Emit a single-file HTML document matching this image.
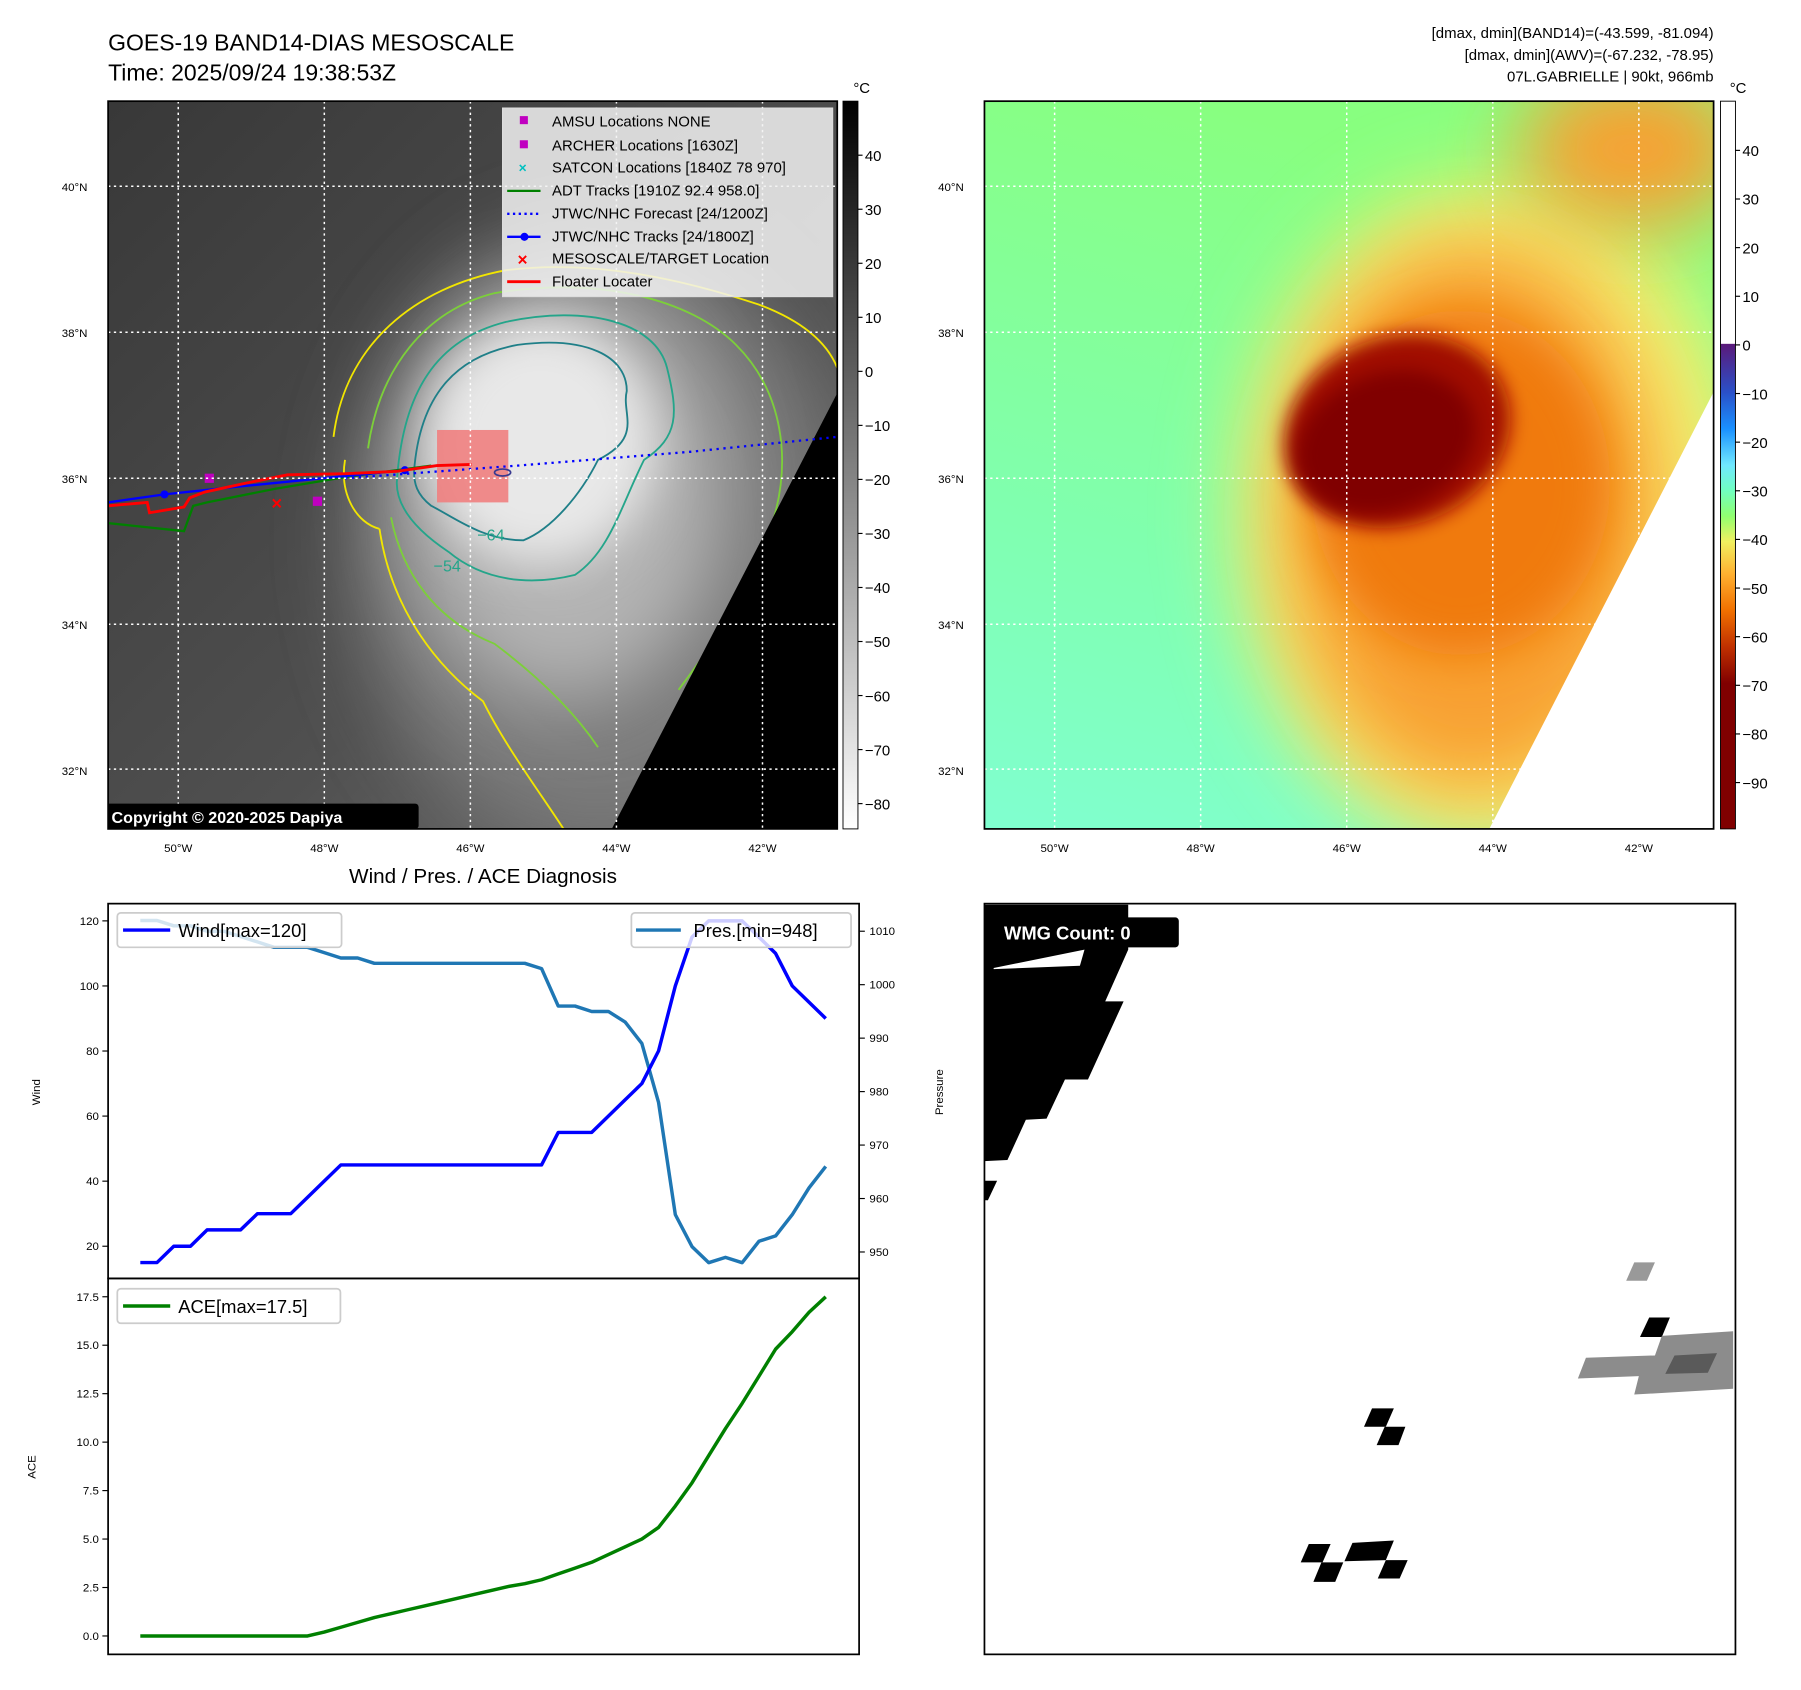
<!DOCTYPE html>
<html><head><meta charset="utf-8">
<style>
html,body{margin:0;padding:0;background:#fff;}
svg{display:block;font-family:"Liberation Sans","DejaVu Sans",sans-serif;}
</style></head>
<body>
<svg id="fig" width="1801" height="1690" viewBox="0 0 1566 1470" preserveAspectRatio="none" xmlns="http://www.w3.org/2000/svg">
<defs>
  <clipPath id="c1"><rect x="94" y="88" width="634" height="633"/></clipPath>
  <clipPath id="c2"><rect x="856" y="88" width="634" height="633"/></clipPath>
  <filter id="b20" x="-50%" y="-50%" width="200%" height="200%"><feGaussianBlur stdDeviation="20"/></filter>
  <filter id="b35" x="-50%" y="-50%" width="200%" height="200%"><feGaussianBlur stdDeviation="35"/></filter>
  <filter id="b10" x="-50%" y="-50%" width="200%" height="200%"><feGaussianBlur stdDeviation="8"/></filter>
  <linearGradient id="greyBar" x1="0" y1="0" x2="0" y2="1">
    <stop offset="0" stop-color="#000"/><stop offset="1" stop-color="#fff"/>
  </linearGradient>
  <linearGradient id="colBar" x1="0" y1="88" x2="0" y2="721" gradientUnits="userSpaceOnUse">
    <stop offset="0" stop-color="#fff"/><stop offset="0.333" stop-color="#fff"/>
    <stop offset="0.334" stop-color="#5a1a7a"/>
    <stop offset="0.40" stop-color="#2a50c8"/>
    <stop offset="0.45" stop-color="#1a90ff"/>
    <stop offset="0.50" stop-color="#70e8ff"/>
    <stop offset="0.535" stop-color="#70ffc0"/>
    <stop offset="0.57" stop-color="#90ff70"/>
    <stop offset="0.605" stop-color="#f0f060"/>
    <stop offset="0.65" stop-color="#ffb030"/>
    <stop offset="0.70" stop-color="#f07000"/>
    <stop offset="0.75" stop-color="#c03000"/>
    <stop offset="0.80" stop-color="#800000"/>
    <stop offset="1" stop-color="#800000"/>
  </linearGradient>
  <linearGradient id="map1bg" x1="0" y1="0" x2="1" y2="1">
    <stop offset="0" stop-color="#383838"/><stop offset="0.6" stop-color="#505050"/><stop offset="1" stop-color="#707070"/>
  </linearGradient>
  <linearGradient id="map2bg" x1="0.3" y1="0" x2="0" y2="1">
    <stop offset="0" stop-color="#88ff80"/><stop offset="0.6" stop-color="#80ffb0"/><stop offset="1" stop-color="#80ffd0"/>
  </linearGradient>
</defs>

<text x="94" y="44" font-size="20">GOES-19 BAND14-DIAS MESOSCALE</text>
<text x="94" y="70" font-size="20">Time: 2025/09/24 19:38:53Z</text>
<g font-size="13" text-anchor="end">
  <text x="1490" y="33">[dmax, dmin](BAND14)=(-43.599, -81.094)</text>
  <text x="1490" y="52">[dmax, dmin](AWV)=(-67.232, -78.95)</text>
  <text x="1490" y="71">07L.GABRIELLE | 90kt, 966mb</text>
</g>

<!-- MAP 1 -->
<g clip-path="url(#c1)">
  <rect x="94" y="88" width="634" height="633" fill="url(#map1bg)"/>
  <ellipse cx="520" cy="470" rx="210" ry="270" fill="#7a7a7a" filter="url(#b35)"/>
  <ellipse cx="490" cy="430" rx="140" ry="180" fill="#b4b4b4" filter="url(#b35)"/>
  <ellipse cx="470" cy="385" rx="100" ry="105" fill="#e8e8e8" filter="url(#b20)"/>
  <g fill="none" stroke-width="1.6">
    <path stroke="#f2e600" d="M290,380 C300,300 360,250 440,235 C520,225 600,245 660,265 C700,280 720,300 728,320 M728,420 C710,460 680,520 650,560 C620,620 580,680 560,721 M330,460 C340,530 380,580 420,610 C440,650 470,690 490,721 M300,400 C295,430 310,455 330,460"/>
    <path stroke="#7ccf3a" d="M320,390 C330,320 370,270 430,255 C520,240 600,260 640,300 C680,340 690,400 670,460 C650,520 620,560 590,600 M340,450 C350,500 380,540 430,560 C470,590 500,620 520,650"/>
    <path stroke="#24a58a" d="M345,420 C350,340 380,295 440,280 C510,265 570,280 580,320 C590,360 590,380 560,400 C540,440 530,480 500,500 C460,510 420,505 390,480 C360,460 345,440 345,420 Z"/>
    <path stroke="#1f7f88" d="M360,410 C365,345 395,310 450,300 C510,292 545,310 545,340 C540,360 560,380 520,400 C505,430 480,460 455,470 C420,470 395,450 375,440 C362,430 360,420 360,410 Z"/>
  </g>
  <text x="415" y="470" font-size="14" fill="#24a58a">−64</text>
  <text x="377" y="497" font-size="14" fill="#24a58a">−54</text>
  <polygon points="728,342 728,721 532,721" fill="#000"/>
  <rect x="380" y="374" width="62" height="63" fill="#f08080" fill-opacity="0.9"/>
  <polyline fill="none" stroke="#008000" stroke-width="2" points="94,455 160,462 168,440 180,437 240,425 300,415 375,405"/>
  <polyline fill="none" stroke="#0000ff" stroke-width="2" stroke-dasharray="2,4" points="300,416 450,405 600,393 728,380"/>
  <polyline fill="none" stroke="#0000ff" stroke-width="2" points="94,437 143,430 200,424 260,418 352,409"/>
  <circle cx="143" cy="430" r="3.5" fill="#0000ff"/><circle cx="352" cy="409" r="3.5" fill="#0000ff"/>
  <polyline fill="none" stroke="#ff0000" stroke-width="2.5" points="94,440 128,437 130,446 160,441 165,433 178,428 215,420 250,413 300,412 345,410 380,405 410,404"/>
  <text x="236" y="443" font-size="16" fill="#ff0000" font-weight="bold">×</text>
  <rect x="272" y="432" width="8" height="8" fill="#c000c0"/>
  <rect x="178" y="412" width="8" height="8" fill="#c000c0"/>
  <ellipse cx="437" cy="411" rx="7" ry="3" fill="none" stroke="#3a3a90" stroke-width="1.5"/>
  <g stroke="#fff" stroke-width="1.3" stroke-dasharray="2,3">
    <line x1="155" y1="88" x2="155" y2="721"/><line x1="282" y1="88" x2="282" y2="721"/><line x1="409" y1="88" x2="409" y2="721"/><line x1="536" y1="88" x2="536" y2="721"/><line x1="663" y1="88" x2="663" y2="721"/>
    <line x1="94" y1="162" x2="728" y2="162"/><line x1="94" y1="289" x2="728" y2="289"/><line x1="94" y1="416" x2="728" y2="416"/><line x1="94" y1="543" x2="728" y2="543"/><line x1="94" y1="669" x2="728" y2="669"/>
  </g>
  <g>
    <rect x="437" y="94" width="287" height="164" fill="#f2f2f2" fill-opacity="0.85" stroke="#ddd"/>
    <g font-size="13">
      <rect x="452" y="101" width="7" height="7" fill="#c000c0"/><text x="480" y="110">AMSU Locations NONE</text>
      <rect x="452" y="122" width="7" height="7" fill="#c000c0"/><text x="480" y="131">ARCHER Locations [1630Z]</text>
      <text x="451" y="150" fill="#00c0c0" font-weight="bold" font-size="12">×</text><text x="480" y="150">SATCON Locations [1840Z 78 970]</text>
      <line x1="441" y1="166" x2="470" y2="166" stroke="#008000" stroke-width="2"/><text x="480" y="170">ADT Tracks [1910Z 92.4 958.0]</text>
      <line x1="441" y1="186" x2="470" y2="186" stroke="#0000ff" stroke-width="2" stroke-dasharray="2,3"/><text x="480" y="190">JTWC/NHC Forecast [24/1200Z]</text>
      <line x1="441" y1="206" x2="470" y2="206" stroke="#0000ff" stroke-width="2"/><circle cx="456" cy="206" r="3.5" fill="#0000ff"/><text x="480" y="210">JTWC/NHC Tracks [24/1800Z]</text>
      <text x="450" y="231" fill="#ff0000" font-weight="bold" font-size="15">×</text><text x="480" y="229">MESOSCALE/TARGET Location</text>
      <line x1="441" y1="245" x2="470" y2="245" stroke="#ff0000" stroke-width="2.5"/><text x="480" y="249">Floater Locater</text>
    </g>
  </g>
  <rect x="92" y="699" width="272" height="22" rx="3" fill="#000"/>
  <text x="97" y="716" font-size="14" font-weight="bold" fill="#fff">Copyright © 2020-2025 Dapiya</text>
</g>
<rect x="94" y="88" width="634" height="633" fill="none" stroke="#000" stroke-width="1.5"/>
<rect x="733" y="88" width="13" height="633" fill="url(#greyBar)" stroke="#000" stroke-width="0.8"/>
<text x="742" y="81" font-size="13">°C</text>
<g id="cb1" font-size="13"></g>

<!-- MAP 2 -->
<g clip-path="url(#c2)">
  <rect x="856" y="88" width="634" height="633" fill="url(#map2bg)"/>
  <ellipse cx="1300" cy="450" rx="220" ry="290" fill="#f8f070" filter="url(#b35)"/>
  <ellipse cx="1420" cy="130" rx="100" ry="70" fill="#f8a030" filter="url(#b35)"/>
  <ellipse cx="1280" cy="450" rx="165" ry="240" fill="#f8a030" filter="url(#b35)"/>
  <ellipse cx="1270" cy="420" rx="130" ry="150" fill="#f07a10" filter="url(#b20)"/>
  <ellipse cx="1215" cy="375" rx="100" ry="82" fill="#a01000" filter="url(#b10)" transform="rotate(-20 1215 375)"/>
  <ellipse cx="1205" cy="385" rx="80" ry="60" fill="#800000" filter="url(#b10)" transform="rotate(-20 1205 385)"/>
  <polygon points="1490,341 1490,721 1295,721" fill="#fff"/>
  <g stroke="#fff" stroke-width="1.3" stroke-dasharray="2,3">
    <line x1="917" y1="88" x2="917" y2="721"/><line x1="1044" y1="88" x2="1044" y2="721"/><line x1="1171" y1="88" x2="1171" y2="721"/><line x1="1298" y1="88" x2="1298" y2="721"/><line x1="1425" y1="88" x2="1425" y2="721"/>
    <line x1="856" y1="162" x2="1490" y2="162"/><line x1="856" y1="289" x2="1490" y2="289"/><line x1="856" y1="416" x2="1490" y2="416"/><line x1="856" y1="543" x2="1490" y2="543"/><line x1="856" y1="669" x2="1490" y2="669"/>
  </g>
</g>
<rect x="856" y="88" width="634" height="633" fill="none" stroke="#000" stroke-width="1.5"/>
<rect x="1496" y="88" width="13" height="633" fill="url(#colBar)" stroke="#000" stroke-width="0.8"/>
<text x="1504" y="81" font-size="13">°C</text>
<g id="cb2" font-size="13"></g>
<g id="maplabels" font-size="10"></g>

<text x="420" y="768" font-size="18" text-anchor="middle">Wind / Pres. / ACE Diagnosis</text>
<g id="chart"></g>
<rect x="94" y="786" width="653" height="326" fill="none" stroke="#000" stroke-width="1.5"/>
<rect x="94" y="1112" width="653" height="327" fill="none" stroke="#000" stroke-width="1.5"/>
<text x="35" y="950" font-size="10" text-anchor="middle" transform="rotate(-90 35 950)">Wind</text>
<text x="820" y="950" font-size="10" text-anchor="middle" transform="rotate(-90 820 950)">Pressure</text>
<text x="31" y="1276" font-size="10" text-anchor="middle" transform="rotate(-90 31 1276)">ACE</text>
<g>
  <rect x="102" y="794" width="195" height="30" rx="3" fill="#fff" fill-opacity="0.8" stroke="#ccc" stroke-width="1.5"/>
  <line x1="107" y1="809" x2="148" y2="809" stroke="#0000ff" stroke-width="3"/>
  <text x="155" y="815" font-size="16">Wind[max=120]</text>
</g>
<g>
  <rect x="549" y="794" width="191" height="30" rx="3" fill="#fff" fill-opacity="0.8" stroke="#ccc" stroke-width="1.5"/>
  <line x1="553" y1="809" x2="592" y2="809" stroke="#1f77b4" stroke-width="3"/>
  <text x="603" y="815" font-size="16">Pres.[min=948]</text>
</g>
<g>
  <rect x="102" y="1121" width="194" height="30" rx="3" fill="#fff" fill-opacity="0.8" stroke="#ccc" stroke-width="1.5"/>
  <line x1="107" y1="1136" x2="148" y2="1136" stroke="#008000" stroke-width="3"/>
  <text x="155" y="1142" font-size="16">ACE[max=17.5]</text>
</g>

<g>
  <rect x="856" y="786" width="653" height="653" fill="#fff"/>
  <polygon points="856,787 981,787 981,826 961,871 977,871 946,939 926,939 910,973 892,974 876,1009 856,1010" fill="#000"/>
  <polygon points="864,842 943,826 939,840 864,843" fill="#fff"/>
  <polygon points="856,1027 867,1027 859,1044 856,1044" fill="#000"/>
  <polygon points="1193,1225 1212,1225 1205,1241 1186,1241" fill="#000"/>
  <polygon points="1204,1241 1222,1241 1216,1257 1197,1257" fill="#000"/>
  <polygon points="1138,1343 1157,1343 1150,1359 1131,1359" fill="#000"/>
  <polygon points="1149,1359 1168,1359 1161,1376 1142,1376" fill="#000"/>
  <polygon points="1176,1342 1212,1340 1205,1357 1169,1358" fill="#000"/>
  <polygon points="1205,1357 1224,1357 1217,1373 1198,1373" fill="#000"/>
  <polygon points="1421,1098 1439,1098 1432,1114 1414,1114" fill="#999"/>
  <polygon points="1434,1146 1452,1146 1445,1163 1426,1163" fill="#000"/>
  <polygon points="1379,1181 1439,1179 1445,1162 1507,1158 1507,1208 1421,1213 1425,1197 1372,1199" fill="#8c8c8c"/>
  <polygon points="1456,1179 1493,1177 1485,1194 1448,1195" fill="#5a5a5a"/>
  <rect x="865" y="798" width="160" height="26" rx="3" fill="#000"/>
  <text x="873" y="817" font-size="16" font-weight="bold" fill="#fff">WMG Count: 0</text>
</g>
<rect x="856" y="786" width="653" height="653" fill="none" stroke="#000" stroke-width="1.5"/>
</svg>

<script>
const windVals = [15,15,20,20,25,25,25,30,30,30,35,40,45,45,45,45,45,45,45,45,45,45,45,45,45,55,55,55,60,65,70,80,100,115,120,120,120,115,110,100,95,90];
const presVals = [1012,1012,1011,1011,1010,1010,1009,1008,1007,1007,1007,1006,1005,1005,1004,1004,1004,1004,1004,1004,1004,1004,1004,1004,1003,996,996,995,995,993,989,978,957,951,948,949,948,952,953,957,962,966];
const aceVals = [0,0,0,0,0,0,0,0,0,0,0,0.2,0.45,0.7,0.95,1.15,1.35,1.55,1.75,1.95,2.15,2.35,2.55,2.7,2.9,3.2,3.5,3.8,4.2,4.6,5.0,5.6,6.7,7.9,9.3,10.7,12.0,13.4,14.8,15.7,16.7,17.5];
const windTicks = [20,40,60,80,100,120];
const presTicks = [950,960,970,980,990,1000,1010];
const aceTicks = [0,2.5,5,7.5,10,12.5,15,17.5];
const greyTicks = [40,30,20,10,0,-10,-20,-30,-40,-50,-60,-70,-80];
const colorTicks = [40,30,20,10,0,-10,-20,-30,-40,-50,-60,-70,-80,-90];
const latLabels = [40,38,36,34,32];
const lonLabels = [50,48,46,44,42];

const NS = "http://www.w3.org/2000/svg";
function xIdx(i, n){ return 122 + i*(718-122)/(n-1); }
function yWind(v){ return 1084 - (v-20)*2.83; }
function yPres(p){ return 1089 - (p-950)*4.65; }
function yAce(a){ return 1423 - a*16.86; }
function yGrey(t){ return 323 - t*4.7; }
function yCol(t){ return 300 - t*4.23; }
function yLat(l){ return 416 - (l-36)*63.5; }
function xLon(l){ return 409 - (l-46)*63.5; }

function mk(tag, attrs, parent){ const e=document.createElementNS(NS,tag); for(const k in attrs) e.setAttribute(k,attrs[k]); parent.appendChild(e); return e; }
function txt(parent,x,y,s,anchor,size){ const t=mk('text',{x:x,y:y,'text-anchor':anchor||'start','font-size':size||10},parent); t.textContent=s; return t; }
function fmtNeg(v){ return v<0 ? '\u2212'+Math.abs(v) : String(v); }

const chart = document.getElementById('chart');
function line(vals, yf, color, name){
  const pts = vals.map((v,i)=>xIdx(i,vals.length).toFixed(1)+','+yf(v).toFixed(1)).join(' ');
  const pl = mk('polyline',{points:pts,fill:'none',stroke:color,'stroke-width':3,'stroke-linejoin':'round'},chart);
  
  
}
line(presVals, yPres, '#1f77b4', 'pressure-line');
line(windVals, yWind, '#0000ff', 'wind-line');
line(aceVals, yAce, '#008000', 'ace-line');

windTicks.forEach(t=>{ const y=yWind(t); mk('line',{x1:89,y1:y,x2:94,y2:y,stroke:'#000'},chart); txt(chart,86,y+3.5,String(t),'end',10); });
presTicks.forEach(t=>{ const y=yPres(t); mk('line',{x1:747,y1:y,x2:752,y2:y,stroke:'#000'},chart); txt(chart,756,y+3.5,String(t),'start',10); });
aceTicks.forEach(t=>{ const y=yAce(t); mk('line',{x1:89,y1:y,x2:94,y2:y,stroke:'#000'},chart); txt(chart,86,y+3.5,t.toFixed(1),'end',10); });

const cb1 = document.getElementById('cb1');
greyTicks.forEach(t=>{ const y=yGrey(t); mk('line',{x1:746,y1:y,x2:750,y2:y,stroke:'#000'},cb1); txt(cb1,752,y+5,fmtNeg(t),'start',13); });
const cb2 = document.getElementById('cb2');
colorTicks.forEach(t=>{ const y=yCol(t); mk('line',{x1:1509,y1:y,x2:1513,y2:y,stroke:'#000'},cb2); txt(cb2,1515,y+5,fmtNeg(t),'start',13); });

const ml = document.getElementById('maplabels');
[0,762].forEach(off=>{
  latLabels.forEach(l=>{ txt(ml,76+off,yLat(l)+4,l+'°N','end',10); });
  lonLabels.forEach(l=>{ txt(ml,xLon(l)+off,741,l+'°W','middle',10); });
});
</script>
</body></html>
